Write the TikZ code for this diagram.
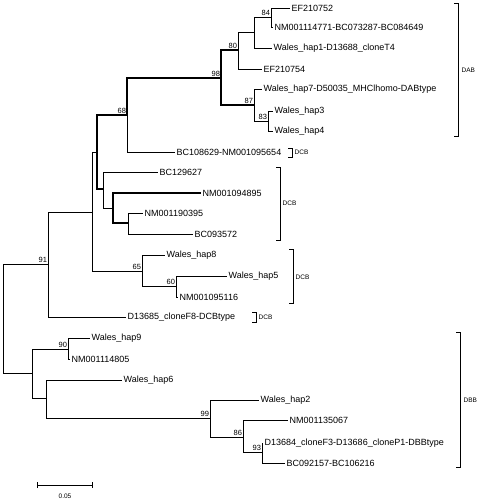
\documentclass[tikz,border=0pt]{standalone}
\usepackage{fontspec}
\setmainfont{Liberation Sans}
\usetikzlibrary{arrows.meta}

\begin{document}
\begin{tikzpicture}[
			x=1pt, y=-1pt,
			branch/.style={line width=0.7pt},
			bold/.style={line width=1.1pt},
			leaf/.style={anchor=west, inner sep=1.5pt, font=\fontsize{9}{10}\selectfont},
			boot/.style={anchor=south east, inner sep=0.8pt, font=\fontsize{7.5}{8}\selectfont},
			clade/.style={line width=0.7pt},
			cladename/.style={anchor=west, inner sep=1.5pt, font=\fontsize{6.5}{7}\selectfont}
			]
			\useasboundingbox (0,0) rectangle (478,500);
			
			% internal nodes
			\coordinate (root) at (3,318.5);
			\coordinate (n91) at (48,264);
			\coordinate (nA) at (92,212);
			\coordinate (nB) at (97,152);
			\coordinate (n68) at (127,115);
			\coordinate (n98) at (221,78);
			\coordinate (n80) at (238,50);
			\coordinate (nD) at (254,32);
			\coordinate (n84) at (271,17);
			\coordinate (n87) at (254,105);
			\coordinate (n83) at (268,121);
			\coordinate (nC) at (103,189);
			\coordinate (nE) at (113,208);
			\coordinate (nF) at (128,223);
			\coordinate (n65) at (142,271);
			\coordinate (n60) at (176,286);
			\coordinate (nL) at (32,373);
			\coordinate (n90) at (68,349);
			\coordinate (nG) at (46,398);
			\coordinate (n99) at (210,418);
			\coordinate (n86) at (243,437);
			\coordinate (n93) at (262,452);
			
			% leaves
			\node[leaf] (ef752) at (290,8) {EF210752};
			\node[leaf] (nm4771) at (273,27) {NM001114771-BC073287-BC084649};
			\node[leaf] (hap1) at (272,48) {Wales\_hap1-D13688\_cloneT4};
			\node[leaf] (ef754) at (262,69) {EF210754};
			\node[leaf] (hap7) at (262,89) {Wales\_hap7-D50035\_MHClhomo-DABtype};
			\node[leaf] (hap3) at (273,111) {Wales\_hap3};
			\node[leaf] (hap4) at (273,131) {Wales\_hap4};
			\node[leaf] (bc8629) at (175,152) {BC108629-NM001095654};
			\node[leaf] (bc9627) at (158,172) {BC129627};
			\node[leaf] (nm4895) at (201,193) {NM001094895};
			\node[leaf] (nm0395) at (143,213) {NM001190395};
			\node[leaf] (bc3572) at (193,234) {BC093572};
			\node[leaf] (hap8) at (165,255) {Wales\_hap8};
			\node[leaf] (hap5) at (227,276) {Wales\_hap5};
			\node[leaf] (nm5116) at (178,297) {NM001095116};
			\node[leaf] (d13685) at (126,317) {D13685\_cloneF8-DCBtype};
			\node[leaf] (hap9) at (90,338) {Wales\_hap9};
			\node[leaf] (nm4805) at (70,359) {NM001114805};
			\node[leaf] (hap6) at (122,380) {Wales\_hap6};
			\node[leaf] (hap2) at (259,400) {Wales\_hap2};
			\node[leaf] (nm5067) at (288,420) {NM001135067};
			\node[leaf] (d13684) at (263,443) {D13684\_cloneF3-D13686\_cloneP1-DBBtype};
			\node[leaf] (bc2157) at (285,463) {BC092157-BC106216};
			
			% branches
			\draw[branch] (root) |- (n91);
			\draw[branch] (root) |- (nL);
			\draw[branch] (n91) |- (nA);
			\draw[branch] (n91) |- (d13685.west);
			\draw[branch] (nA) |- (nB);
			\draw[branch] (nA) |- (n65);
			\draw[bold] (nB) |- (n68);
			\draw[bold] (nB) |- (nC);
			\draw[bold] (n68) |- (n98);
			\draw[branch] (n68) |- (bc8629.west);
			\draw[bold] (n98) |- (n80);
			\draw[bold] (n98) |- (n87);
			\draw[branch] (n80) |- (nD);
			\draw[branch] (n80) |- (ef754.west);
			\draw[branch] (nD) |- (n84);
			\draw[branch] (nD) |- (hap1.west);
			\draw[branch] (n84) |- (ef752.west);
			\draw[branch] (n84) |- (nm4771.west);
			\draw[branch] (n87) |- (hap7.west);
			\draw[branch] (n87) |- (n83);
			\draw[branch] (n83) |- (hap3.west);
			\draw[branch] (n83) |- (hap4.west);
			\draw[branch] (nC) |- (bc9627.west);
			\draw[branch] (nC) |- (nE);
			\draw[bold] (nE) |- (nm4895.west);
			\draw[bold] (nE) |- (nF);
			\draw[branch] (nF) |- (nm0395.west);
			\draw[branch] (nF) |- (bc3572.west);
			\draw[branch] (n65) |- (hap8.west);
			\draw[branch] (n65) |- (n60);
			\draw[branch] (n60) |- (hap5.west);
			\draw[branch] (n60) |- (nm5116.west);
			\draw[branch] (nL) |- (n90);
			\draw[branch] (nL) |- (nG);
			\draw[branch] (n90) |- (hap9.west);
			\draw[branch] (n90) |- (nm4805.west);
			\draw[branch] (nG) |- (hap6.west);
			\draw[branch] (nG) |- (n99);
			\draw[branch] (n99) |- (hap2.west);
			\draw[branch] (n99) |- (n86);
			\draw[branch] (n86) |- (nm5067.west);
			\draw[branch] (n86) |- (n93);
			\draw[branch] (n93) |- (d13684.west);
			\draw[branch] (n93) |- (bc2157.west);
			
			% bootstrap values
			\node[boot] (b84) at (n84) {84};
			\node[boot] (b80) at (n80) {80};
			\node[boot] (b98) at (n98) {98};
			\node[boot] (b68) at (n68) {68};
			\node[boot] (b87) at (n87) {87};
			\node[boot] (b83) at (n83) {83};
			\node[boot] (b65) at (n65) {65};
			\node[boot] (b60) at (n60) {60};
			\node[boot] (b91) at (n91) {91};
			\node[boot] (b90) at (n90) {90};
			\node[boot] (b99) at (n99) {99};
			\node[boot] (b86) at (n86) {86};
			\node[boot] (b93) at (n93) {93};
			
			% clade brackets
			\draw[clade] (454,3) -- (458,3) -- (458,136) -- (454,136);
			\node[cladename] (dab) at (460,70) {DAB};
			\draw[clade] (288,148) -- (292,148) -- (292,157) -- (288,157);
			\node[cladename] (dcb1) at (293,152) {DCB};
			\draw[clade] (276,167) -- (280,167) -- (280,240) -- (276,240);
			\node[cladename] (dcb2) at (281,203) {DCB};
			\draw[clade] (289,249) -- (293,249) -- (293,303) -- (289,303);
			\node[cladename] (dcb3) at (294,277) {DCB};
			\draw[clade] (252,312) -- (256,312) -- (256,322) -- (252,322);
			\node[cladename] (dcb4) at (257,317) {DCB};
			\draw[clade] (456,332) -- (460,332) -- (460,467) -- (456,467);
			\node[cladename] (dbb) at (462,400) {DBB};
			
			% scale bar
			\coordinate (sbl) at (37,485);
			\coordinate (sbr) at (93,485);
			\draw[branch, {Bar[width=6pt]}-{Bar[width=6pt]}] (sbl) -- (sbr);
			\node[font=\fontsize{6.5}{7}\selectfont] (sblabel) at (65,496) {0.05};
		\end{tikzpicture}
\end{document}
